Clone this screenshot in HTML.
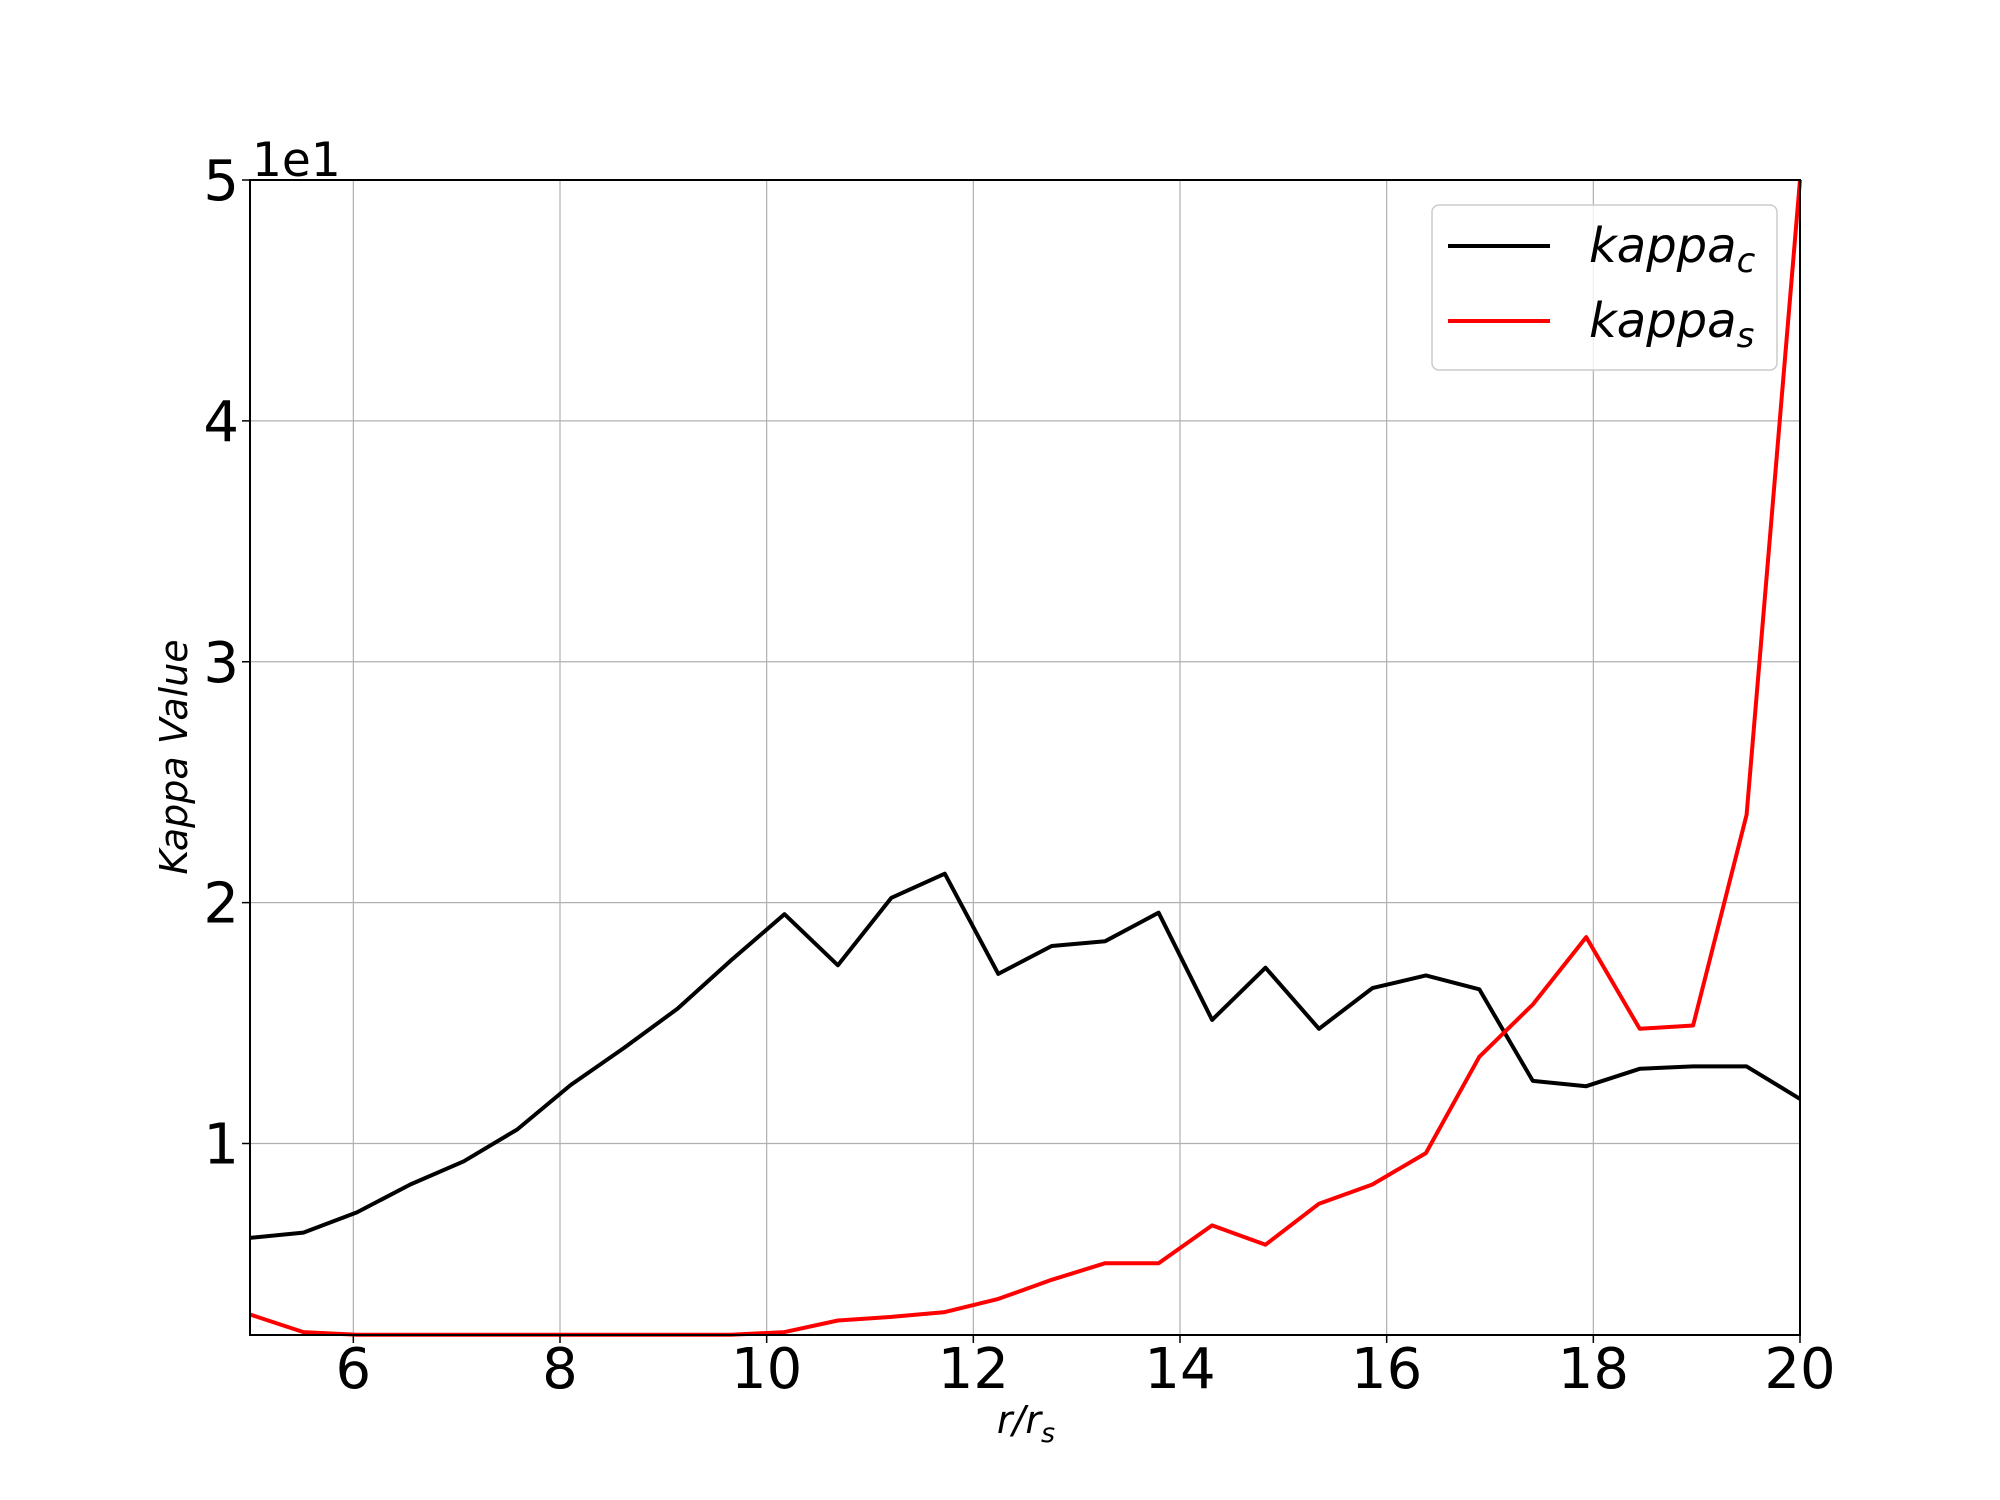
<!DOCTYPE html>
<html><head><meta charset="utf-8"><style>
html,body{margin:0;padding:0;background:#fff;}
svg{display:block;font-family:"DejaVu Sans","Liberation Sans",sans-serif;}
</style></head><body>
<svg id="chart" width="2000" height="1500" viewBox="0 0 2000 1500" xmlns="http://www.w3.org/2000/svg">
<rect width="2000" height="1500" fill="#fff"/>
<g id="grid"></g>
<g id="series"></g>
<rect x="250" y="180" width="1550" height="1155" fill="none" stroke="#000" stroke-width="2"/>
<g id="ticks"></g>
<text x="252" y="176" font-size="47">1e1</text>
<text transform="translate(187,757) rotate(-90)" text-anchor="middle" font-size="38" font-style="italic">Kappa Value</text>
<text x="1026" y="1433" text-anchor="middle" font-size="38" font-style="italic">r/r<tspan font-size="27" dy="9">s</tspan></text>
<g>
<rect x="1432" y="205" width="345" height="165" rx="7" fill="#fff" fill-opacity="0.8" stroke="#ccc" stroke-width="1.5"/>
<line x1="1448" y1="246" x2="1550" y2="246" stroke="#000" stroke-width="4"/>
<text x="1589" y="262" font-size="48" font-style="italic">kappa<tspan font-size="34" dy="10">c</tspan></text>
<line x1="1448" y1="321" x2="1550" y2="321" stroke="#f00" stroke-width="4"/>
<text x="1589" y="337" font-size="48" font-style="italic">kappa<tspan font-size="34" dy="10">s</tspan></text>
</g>
</svg>
<script>
const kappaC = [6.08,6.3,7.14,8.3,9.26,10.58,12.43,13.97,15.6,17.6,19.52,17.4,20.2,21.2,17.04,18.2,18.4,19.58,15.13,17.3,14.76,16.45,16.98,16.4,12.6,12.38,13.1,13.2,13.2,11.85];
const kappaS = [2.9,2.17,2.06,2.06,2.06,2.06,2.06,2.06,2.06,2.06,2.17,2.65,2.8,3.0,3.55,4.34,5.03,5.03,6.6,5.8,7.5,8.3,9.6,13.6,15.77,18.57,14.76,14.9,23.65,50];
const xTicks = [6,8,10,12,14,16,18,20];
const yTicks = [10,20,30,40,50];
const yTickLabels = ["1","2","3","4","5"];
const X0=5,X1=20,Y0=2.05,Y1=50;
const L=250,R=1800,T=180,B=1335;
const xs=v=>L+(v-X0)/(X1-X0)*(R-L);
const ys=v=>B-(v-Y0)/(Y1-Y0)*(B-T);
const NS="http://www.w3.org/2000/svg";
function mk(tag,attrs,parent){const e=document.createElementNS(NS,tag);for(const k in attrs)e.setAttribute(k,attrs[k]);parent.appendChild(e);return e;}
const grid=document.getElementById('grid'),ticks=document.getElementById('ticks'),series=document.getElementById('series');
xTicks.forEach(v=>{
  const g=mk('line',{x1:xs(v),x2:xs(v),y1:T,y2:B,stroke:'#b0b0b0','stroke-width':1.2},grid);
  
  
  const t=mk('line',{x1:xs(v),x2:xs(v),y1:B,y2:B+8,stroke:'#000','stroke-width':1.5},ticks);
  
  
  const l=mk('text',{x:xs(v),y:1388,'text-anchor':'middle','font-size':56},ticks);
  l.textContent=v;
  
  
});
yTicks.forEach((v,i)=>{
  const g=mk('line',{x1:L,x2:R,y1:ys(v),y2:ys(v),stroke:'#b0b0b0','stroke-width':1.2},grid);
  
  
  const t=mk('line',{x1:L-8,x2:L,y1:ys(v),y2:ys(v),stroke:'#000','stroke-width':1.5},ticks);
  
  
  const l=mk('text',{x:239,y:ys(v)+20,'text-anchor':'end','font-size':56},ticks);
  l.textContent=yTickLabels[i];
  
  
});
function draw(vals,color,name){
  const n=vals.length;
  const pts=vals.map((v,i)=>xs(X0+(X1-X0)*i/(n-1)).toFixed(1)+','+ys(v).toFixed(1)).join(' ');
  const p=mk('polyline',{points:pts,fill:'none',stroke:color,'stroke-width':4,'stroke-linejoin':'round'},series);
  
  
}
draw(kappaC,'#000','kappa-c-line');
draw(kappaS,'#f00','kappa-s-line');
</script>
</body></html>
